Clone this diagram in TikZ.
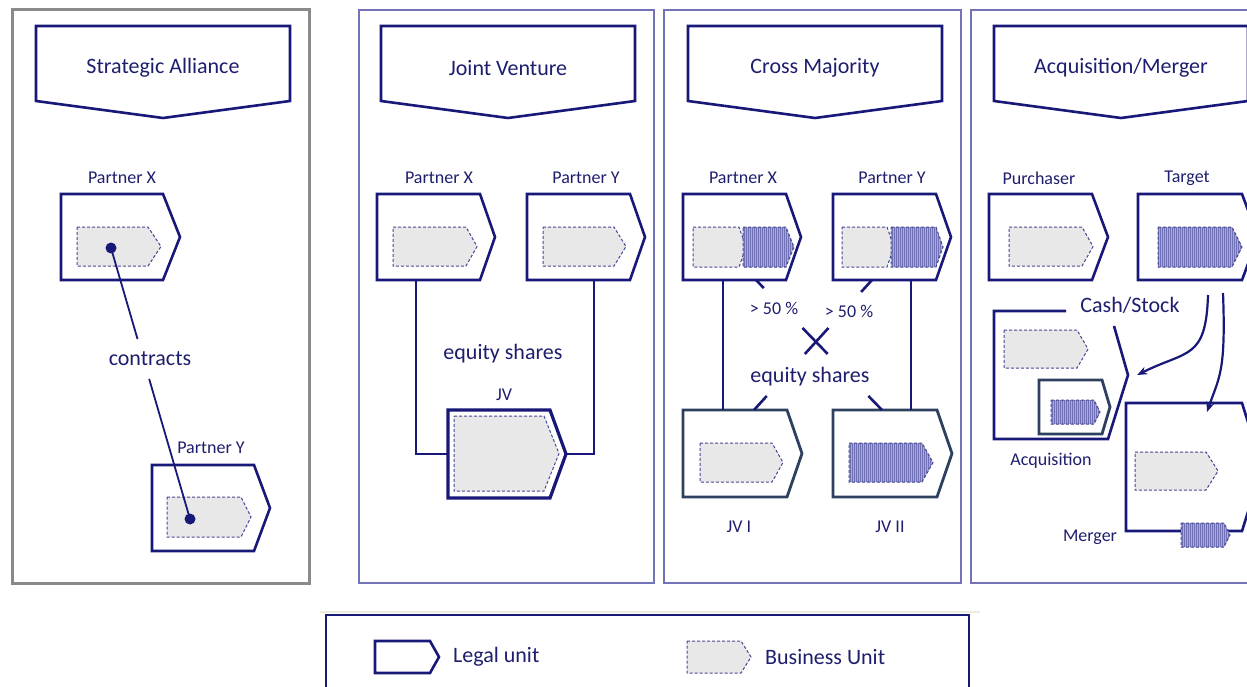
\documentclass[tikz,border=0pt]{standalone}
\usepackage{fontspec}
\setmainfont{Carlito}
\usetikzlibrary{calc,arrows.meta,patterns.meta}
\definecolor{navy}{RGB}{24,24,120}
\definecolor{textc}{RGB}{30,30,110}
\definecolor{panelc}{RGB}{115,115,185}
\definecolor{graypanel}{RGB}{138,138,138}
\definecolor{slate}{RGB}{45,65,95}
\definecolor{bugray}{RGB}{232,232,232}
\definecolor{bustroke}{RGB}{70,70,150}
\definecolor{hatchbg}{RGB}{170,170,212}
\definecolor{hatchline}{RGB}{112,112,180}
\definecolor{beige}{RGB}{238,235,225}
\newcommand{\lunit}[7]{%
  \path[#1] (#3,#4) -- (#5,#4) -- (#6,{(#4+#7)/2}) -- (#5,#7) -- (#3,#7) -- cycle;
  \node[inner sep=0pt,outer sep=0pt,minimum width={#6pt-#3pt},minimum height={#7pt-#4pt}] (#2) at ({(#3+#6)/2},{(#4+#7)/2}) {};}
\newcommand{\header}[3]{%
  \path[legal] (#2,26) -- ({#2+254},26) -- ({#2+254},101) -- ({#2+127},118) -- (#2,101) -- cycle;
  \node[big] (#1) at ({#2+127},68) {#3};}
\begin{document}
\begin{tikzpicture}[x=1pt,y=-1pt,
  legal/.style={draw=navy, line width=2.6pt, fill=white, line join=miter},
  legalslate/.style={draw=slate, line width=2.8pt, fill=white, line join=miter},
  bu/.style={draw=bustroke, dash pattern=on 3pt off 2pt, line width=1pt, fill=bugray},
  buh/.style={draw=bustroke, dash pattern=on 3pt off 2pt, line width=1pt, preaction={fill=hatchbg}, pattern={Lines[angle=90,distance=2pt,line width=0.9pt]}, pattern color=hatchline},
  panel/.style={draw=panelc, line width=1.3pt},
  conn/.style={draw=navy, line width=1.8pt},
  cross/.style={draw=navy, line width=2.6pt},
  arr/.style={draw=navy, line width=2.2pt, -{Stealth[length=10pt,width=8pt]}},
  dot/.style={circle, fill=navy, inner sep=0pt, minimum size=11pt},
  lbl/.style={text=textc, inner sep=1pt, font=\fontsize{18}{20}\selectfont},
  big/.style={text=textc, inner sep=1pt, font=\fontsize{22}{24}\selectfont}]
\useasboundingbox (0,0) rectangle (1247,687);
\fill[white] (0,0) rectangle (1247,687);
\clip (0,0) rectangle (1247,687);
% panels
\draw[draw=graypanel, line width=3pt] (12,10) rectangle (309,583);
\draw[panel] (359,10) rectangle (654,583);
\draw[panel] (664,10) rectangle (961,583);
\draw[panel] (971,10) rectangle (1265,583);
% legend frame
\draw[beige, line width=2pt] (320,612) -- (980,612);
\draw[navy, line width=2pt] (326,615) rectangle (969,700);
% headers
\header{hsa}{36}{Strategic Alliance}
\header{hjv}{381}{Joint Venture}
\header{hcm}{688}{Cross Majority}
\header{ham}{994}{Acquisition/Merger}
% ---------- Strategic Alliance
\node[lbl] (sapxl) at (122,178) {Partner X};
\lunit{legal}{sapx}{61}{194}{163}{180}{280}
\lunit{bu}{sapxb}{77}{227}{148}{161}{266}
\node[lbl] (sapyl) at (211,448) {Partner Y};
\lunit{legal}{sapy}{152}{465}{254}{270}{551}
\lunit{bu}{sapyb}{167}{497}{241}{251}{537}
\node[dot] (d1) at (111,248) {};
\node[dot] (d2) at (190,519) {};
\draw[conn] (d1.center) -- ($(d1.center)!0.336!(d2.center)$);
\draw[conn] ($(d1.center)!0.483!(d2.center)$) -- (d2.center);
\node[big] (contracts) at (150,359) {contracts};
% ---------- Joint Venture
\node[lbl] (jpxl) at (439,178) {Partner X};
\lunit{legal}{jpx}{377}{194}{480}{495}{280}
\lunit{bu}{jpxb}{393}{227}{466}{477}{266}
\node[lbl] (jpyl) at (586,178) {Partner Y};
\lunit{legal}{jpy}{527}{194}{630}{645}{280}
\lunit{bu}{jpyb}{543}{227}{614}{626}{266}
\lunit{legal, line width=3.2pt}{jv}{448}{410}{550}{566}{498}
\lunit{bu}{jvb}{454}{416}{544}{559}{491}
\draw[conn] ([xshift=39pt]jpx.south west) |- (jv.west);
\draw[conn] ([xshift=-51pt]jpy.south east) |- (jv.east);
\node[lbl] (jvl) at (504,395) {JV};
\node[big] (jveq) at (503,354) {equity shares};
% ---------- Cross Majority
\node[lbl] (cmxl) at (743,178) {Partner X};
\lunit{legal}{cmx}{683}{194}{786}{801}{280}
\lunit{bu}{cmxb1}{693}{227}{739}{746}{267}
\lunit{buh}{cmxb2}{743}{227}{786}{794}{267}
\node[lbl] (cmyl) at (892,178) {Partner Y};
\lunit{legal}{cmy}{833}{194}{936}{951}{280}
\lunit{bu}{cmyb1}{842}{227}{887}{894}{267}
\lunit{buh}{cmyb2}{891}{227}{936}{943}{267}
\lunit{legalslate}{jv1}{683}{410}{787}{802}{497}
\lunit{bu}{jv1b}{700}{443}{772}{783}{482}
\lunit{legalslate}{jv2}{833}{410}{937}{952}{497}
\lunit{buh}{jv2b}{849}{443}{922}{933}{482}
\draw[conn] ([xshift=40pt]cmx.south west) -- ([xshift=40pt]jv1.north west);
\draw[conn] ([xshift=78pt]cmy.south west) -- ([xshift=78pt]jv2.north west);
\coordinate (ca1) at ([xshift=73pt]cmx.south west);
\coordinate (ca2) at ([xshift=49pt]jv2.north west);
\coordinate (cb1) at ([xshift=39pt]cmy.south west);
\coordinate (cb2) at ([xshift=71pt]jv1.north west);
\draw[cross] (ca1) -- ($(ca1)!0.062!(ca2)$) ($(ca1)!0.369!(ca2)$) -- ($(ca1)!0.569!(ca2)$) ($(ca1)!0.892!(ca2)$) -- (ca2);
\draw[cross] (cb1) -- ($(cb1)!0.092!(cb2)$) ($(cb1)!0.369!(cb2)$) -- ($(cb1)!0.569!(cb2)$) ($(cb1)!0.892!(cb2)$) -- (cb2);
\node[lbl] (cm50a) at (774,308) {> 50 \%};
\node[lbl] (cm50b) at (849,311) {> 50 \%};
\node[big] (cmeq) at (810,377) {equity shares};
\node[lbl] (jv1l) at (739,527) {JV I};
\node[lbl] (jv2l) at (890,527) {JV II};
% ---------- Acquisition / Merger
\node[lbl] (purl) at (1039,178) {Purchaser};
\lunit{legal}{pur}{989}{194}{1092}{1108}{280}
\lunit{bu}{purb}{1009}{227}{1082}{1093}{266}
\node[lbl] (tgl) at (1187,178) {Target};
\lunit{legal}{tg}{1138}{194}{1242}{1258}{280}
\lunit{buh}{tgb}{1158}{227}{1232}{1242}{267}
\draw[legal, fill=none] (1066,311) -- (994,311) -- (994,439) -- (1108,439) -- (1128,375) -- (1114,326);
\node[inner sep=0pt, minimum width=134pt, minimum height=128pt] (acq) at (1061,375) {};
\lunit{bu}{acqb}{1004}{330}{1077}{1088}{368}
\lunit{legalslate}{acqin}{1039}{380}{1102}{1110}{434}
\lunit{buh}{acqinb}{1051}{400}{1094}{1100}{424}
\node[big] (cash) at (1130,305) {Cash/Stock};
\node[lbl] (acql) at (1051,461) {Acquisition};
\lunit{legal}{mg}{1126}{403}{1242}{1262}{531}
\lunit{bu}{mgb}{1135}{452}{1206}{1218}{490}
\lunit{buh}{mgb2}{1181}{523}{1224}{1230}{547}
\node[lbl] (mgl) at (1090,537) {Merger};
\coordinate (ta1) at ([xshift=70pt,yshift=-15pt]tg.south west);
\coordinate (ta2) at ([xshift=85pt,yshift=-13pt]tg.south west);
\coordinate (ae1) at ([xshift=9pt]acq.east);
\coordinate (ae2) at ([xshift=81pt,yshift=-9pt]mg.north west);
\draw[arr] (ta1) .. controls +(-2,65) and +(50,-25) .. (ae1);
\draw[arr] (ta2) .. controls +(3,80) and +(12,-35) .. (ae2);
% ---------- Legend
\lunit{legal}{lgl}{375}{641}{430}{439}{673}
\node[big, anchor=west] (lgll) at (452,657) {Legal unit};
\lunit{bu}{lgb}{687}{641}{741}{751}{673}
\node[big, anchor=west] (lgbl) at (764,657) {Business Unit};
\end{tikzpicture}
\end{document}
